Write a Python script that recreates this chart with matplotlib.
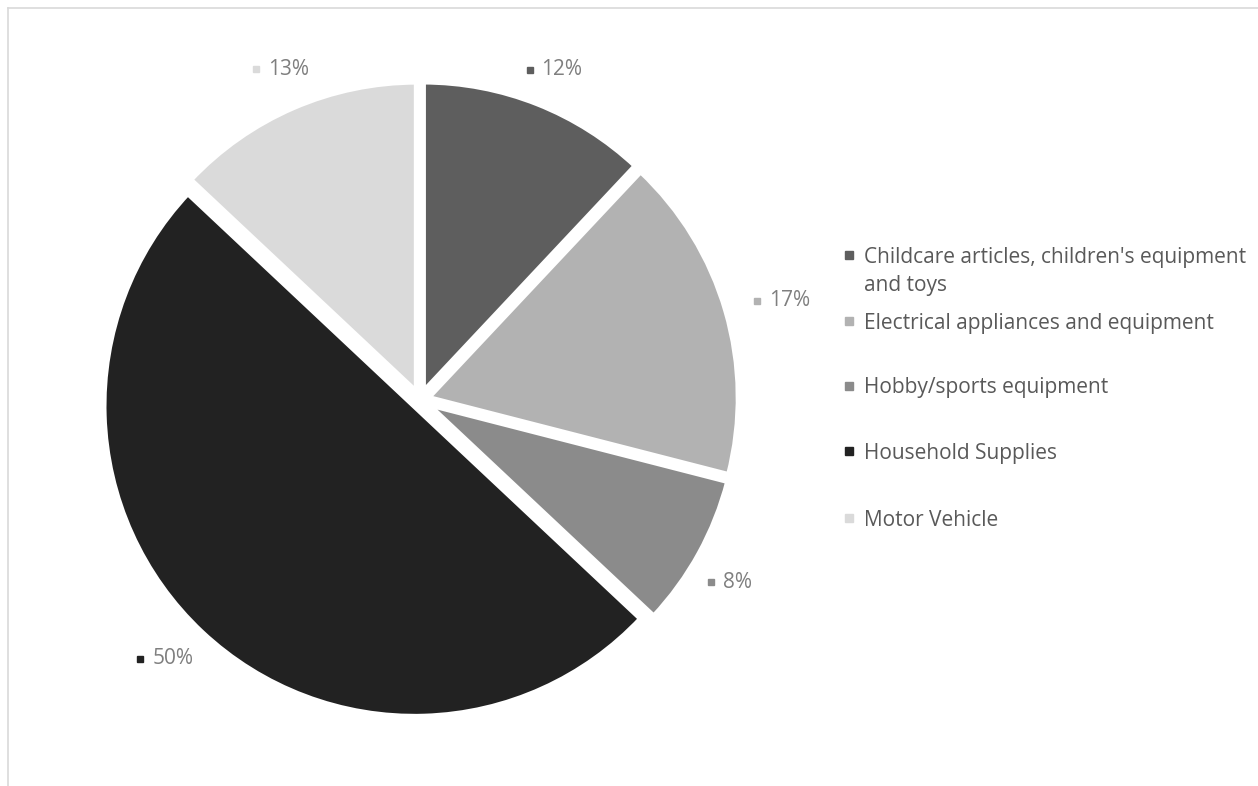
import numpy as np
import matplotlib
matplotlib.use("Agg")
import matplotlib.pyplot as plt
from matplotlib.lines import Line2D

# Share of notifications by product category
categories = ["Childcare articles, children's equipment\nand toys",
              "Electrical appliances and equipment",
              "Hobby/sports equipment",
              "Household Supplies",
              "Motor Vehicle"]
shares = [12, 17, 8, 50, 13]
colors = ["#5e5e5e", "#b2b2b2", "#8b8b8b", "#222222", "#dadada"]

plt.rcParams['font.family'] = ['Open Sans', 'DejaVu Sans']

W, H = 1258, 786
fig = plt.figure(figsize=(W / 100, H / 100), dpi=100)
ax = fig.add_axes([0, 0, 1, 1])

# axes in pixel units, y up
cx, cy, r = 420, H - 400, 311
EXPLODE = 8
wedges, _ = ax.pie(shares, colors=colors, startangle=90, counterclock=False,
                   radius=r, center=(cx, cy), explode=[EXPLODE] * len(shares),
                   wedgeprops=dict(edgecolor="white", linewidth=4.3))
ax.set_xlim(0, W)
ax.set_ylim(0, H)
ax.set_aspect("equal")
ax.axis("off")

# data labels: small colour square + percentage, outside end of each slice
LABEL_R = 347
LABEL_ROT = 1.0  # degrees, clockwise nudge like Excel's placement
HALF_W, HALF_H = 30, 10
cum = np.cumsum([0] + shares[:-1])
for share, start, col in zip(shares, cum, colors):
    mid = np.deg2rad(90 - (start + share / 2) * 3.6 - LABEL_ROT)
    dx, dy = np.cos(mid), np.sin(mid)
    push = min(HALF_W / max(abs(dx), 1e-6), HALF_H / max(abs(dy), 1e-6))
    lx = cx + (LABEL_R + push) * dx
    ly = cy + (LABEL_R + push) * dy
    ax.plot(lx - 28, ly, marker="s", markersize=5, color=col, linestyle="none")
    ax.text(lx - 16, ly, f"{share}%", fontsize=15, color="#7f7f7f",
            ha="left", va="center")

# legend drawn by hand to match spacing
legend_y = [257, 323, 388, 453, 520]
for label, col, y in zip(categories, colors, legend_y):
    ax.plot(849, H - y + 2, marker="s", markersize=5.5, color=col, linestyle="none")
    for i, line in enumerate(label.split("\n")):
        ax.text(864, H - y - i * 28, line, fontsize=15, color="#595959",
                ha="left", va="center")

# chart area border (top and left edges visible)
fig.add_artist(Line2D([8 / W, 8 / W], [0, 1 - 8 / H], color="#d9d9d9", linewidth=1.2))
fig.add_artist(Line2D([8 / W, 1], [1 - 8 / H, 1 - 8 / H], color="#d9d9d9", linewidth=1.2))

fig.savefig("out.png", dpi=100, facecolor="white")
